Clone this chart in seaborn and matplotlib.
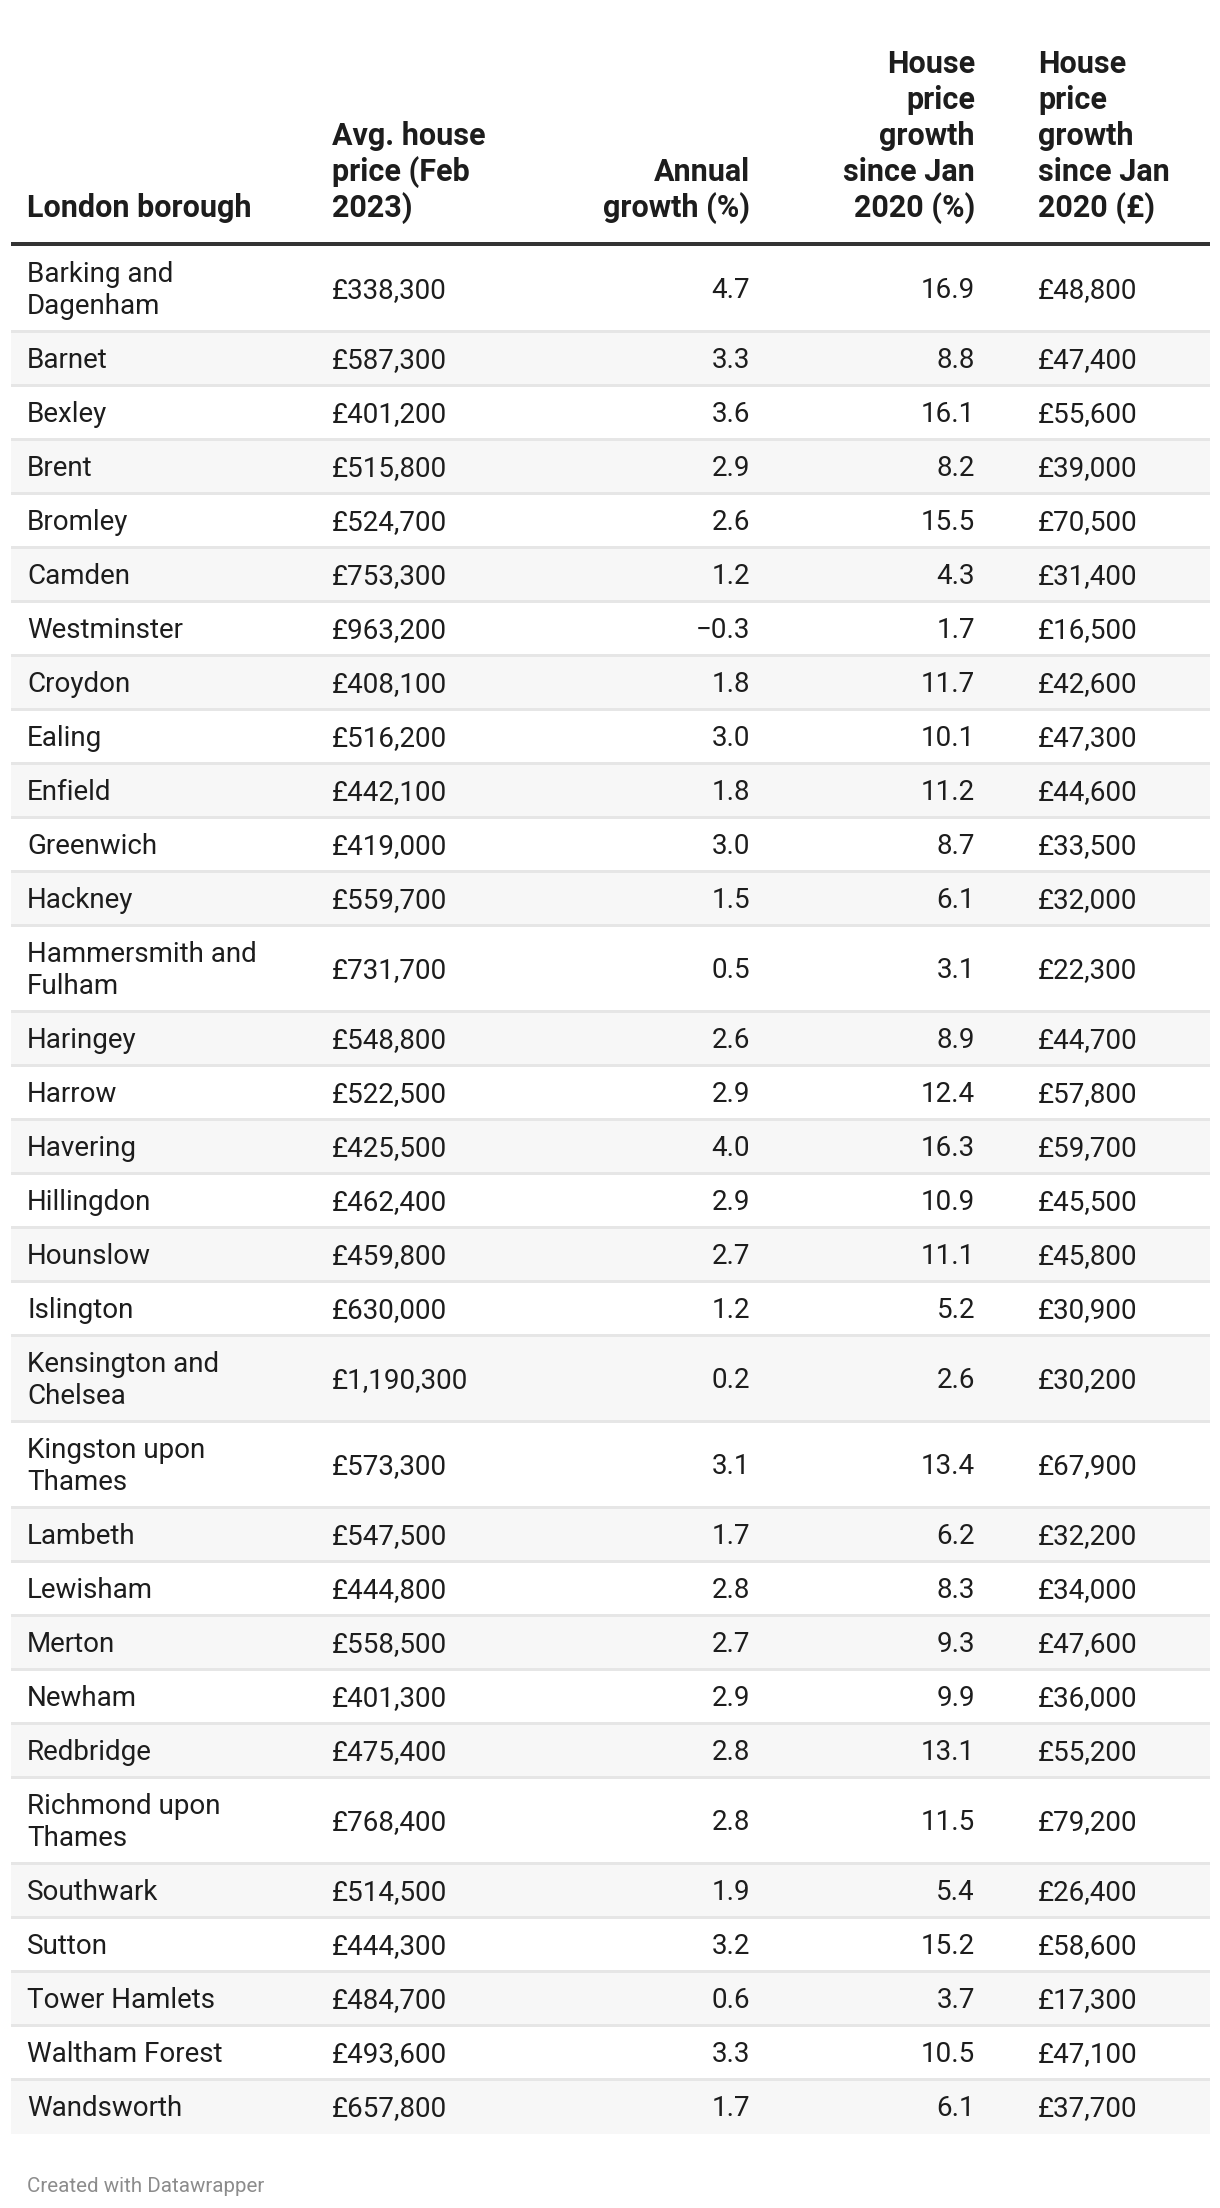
import textwrap
import matplotlib
matplotlib.use("Agg")
import matplotlib.pyplot as plt
import seaborn as sns

# ---------------- data ----------------
boroughs = [
    "Barking and Dagenham", "Barnet", "Bexley", "Brent", "Bromley", "Camden",
    "Westminster", "Croydon", "Ealing", "Enfield", "Greenwich", "Hackney",
    "Hammersmith and Fulham", "Haringey", "Harrow", "Havering", "Hillingdon",
    "Hounslow", "Islington", "Kensington and Chelsea", "Kingston upon Thames",
    "Lambeth", "Lewisham", "Merton", "Newham", "Redbridge",
    "Richmond upon Thames", "Southwark", "Sutton", "Tower Hamlets",
    "Waltham Forest", "Wandsworth",
]
avg_price = [338300, 587300, 401200, 515800, 524700, 753300, 963200, 408100,
             516200, 442100, 419000, 559700, 731700, 548800, 522500, 425500,
             462400, 459800, 630000, 1190300, 573300, 547500, 444800, 558500,
             401300, 475400, 768400, 514500, 444300, 484700, 493600, 657800]
annual_growth = [4.7, 3.3, 3.6, 2.9, 2.6, 1.2, -0.3, 1.8, 3.0, 1.8, 3.0, 1.5,
                 0.5, 2.6, 2.9, 4.0, 2.9, 2.7, 1.2, 0.2, 3.1, 1.7, 2.8, 2.7,
                 2.9, 2.8, 2.8, 1.9, 3.2, 0.6, 3.3, 1.7]
growth_pct = [16.9, 8.8, 16.1, 8.2, 15.5, 4.3, 1.7, 11.7, 10.1, 11.2, 8.7, 6.1,
              3.1, 8.9, 12.4, 16.3, 10.9, 11.1, 5.2, 2.6, 13.4, 6.2, 8.3, 9.3,
              9.9, 13.1, 11.5, 5.4, 15.2, 3.7, 10.5, 6.1]
growth_gbp = [48800, 47400, 55600, 39000, 70500, 31400, 16500, 42600, 47300,
              44600, 33500, 32000, 22300, 44700, 57800, 59700, 45500, 45800,
              30900, 30200, 67900, 32200, 34000, 47600, 36000, 55200, 79200,
              26400, 58600, 17300, 47100, 37700]

headers = [
    "London borough",
    "Avg. house\nprice (Feb\n2023)",
    "Annual\ngrowth (%)",
    "House\nprice\ngrowth\nsince Jan\n2020 (%)",
    "House\nprice\ngrowth\nsince Jan\n2020 (£)",
]
footer = "Created with Datawrapper"

# ---------------- style ----------------
sns.set_theme(style="white")
plt.rcParams["font.family"] = ["Roboto", "DejaVu Sans"]

W, H = 1220, 2208
fig = plt.figure(figsize=(W / 100, H / 100), dpi=100)
ax = fig.add_axes([0, 0, 1, 1])
ax.set_xlim(0, W)
ax.set_ylim(H, 0)
ax.axis("off")

TXT = "#1d1d1d"
FS = 20
HFS = 22
LEFT, RIGHT = 11, 1210
col_x = [27, 332, 750, 975, 1038]
col_ha = ["left", "left", "right", "right", "left"]

# header (bottom aligned)
head_base = 217
head_ls = 36
for x, ha, h in zip(col_x, col_ha, headers):
    lines = h.split("\n")
    n = len(lines)
    for i, ln in enumerate(lines):
        ax.text(x, head_base - (n - 1 - i) * head_ls, ln, ha=ha, va="baseline",
                fontsize=HFS, fontweight="bold", color=TXT)

# header rule
ax.fill_between([LEFT, RIGHT], 242, 246, color="#333333", lw=0)

# rows
y = 245.5
single_h, extra_h = 54, 32
for i, name in enumerate(boroughs):
    lines = textwrap.wrap(name, 15)
    rh = single_h + extra_h * (len(lines) - 1)
    top = y
    if i % 2 == 1:
        ax.fill_between([LEFT, RIGHT], top, top + rh, color="#f7f7f7", lw=0)
    if i > 0:
        ax.fill_between([LEFT, RIGHT], top - 1.2, top + 1.2, color="#e6e6e6", lw=0)
    center = top + rh / 2
    n = len(lines)
    for j, ln in enumerate(lines):
        ax.text(col_x[0], center + (j - (n - 1) / 2) * extra_h + 9.5, ln,
                ha="left", va="baseline", fontsize=FS, color=TXT)
    g = annual_growth[i]
    gtxt = f"{g:.1f}" if g >= 0 else f"\u2212{abs(g):.1f}"
    vals = [f"£{avg_price[i]:,}", gtxt, f"{growth_pct[i]:.1f}", f"£{growth_gbp[i]:,}"]
    for x, ha, v in zip(col_x[1:], col_ha[1:], vals):
        ax.text(x, center + 9.5, v, ha=ha, va="baseline", fontsize=FS, color=TXT)
    y += rh

ax.text(27, 2192, footer, ha="left", va="baseline", fontsize=14.8, color="#8c8c8c")

fig.savefig("out.png", dpi=100, facecolor="white")
